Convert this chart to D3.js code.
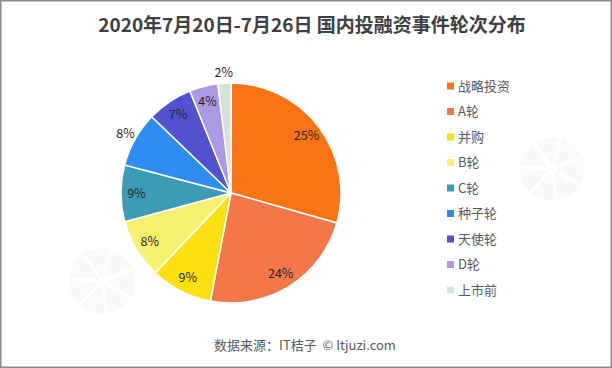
<!DOCTYPE html>
<html>
<head>
<meta charset="utf-8">
<script src="https://cdn.jsdelivr.net/npm/d3@7"></script>
<style>
    html, body { margin: 0; padding: 0; background: #fff; }
    svg { display: block; font-family: "Noto Sans CJK SC", "Noto Sans", sans-serif; }
</style>
</head>
<body>
<svg id="chart"></svg>
<script>
/* ========================================
   国内投融资事件轮次分布 - Pie Chart
   ======================================== */

const categories = ['战略投资', 'A轮', '并购', 'B轮', 'C轮', '种子轮', '天使轮', 'D轮', '上市前'];
const shares = [29.4, 23.6, 9.1, 8.7, 8.3, 8.1, 6.7, 4.2, 1.9];
const labelTexts = ['25%', '24%', '9%', '8%', '9%', '8%', '7%', '4%', '2%'];
const outsideLabels = ['种子轮', '上市前'];
const colors = ['#f97414', '#f4774a', '#fde00f', '#f7f170', '#3d9bb7', '#2f8cf0', '#5252d0', '#ab99e6', '#d3e2dc'];

const width = 612, height = 368;
const center = { x: 231, y: 193 };
const radius = 110;

const svg = d3.select('#chart')
    .attr('width', width)
    .attr('height', height);

// Frame
svg.append('rect')
    .attr('x', 0.75).attr('y', 0.75)
    .attr('width', width - 1.5).attr('height', height - 1.5)
    .attr('fill', '#fff')
    .attr('stroke', '#8c8c8c')
    .attr('stroke-width', 1.5);

// Faint watermark logos
function watermark(cx, cy, r) {
    const w = svg.append('g').attr('transform', `translate(${cx},${cy})`);
    w.append('circle').attr('r', r).attr('fill', '#f9f9f9');
    d3.range(7).forEach(i => {
        const a = i * 2 * Math.PI / 7 + 0.3;
        w.append('line')
            .attr('x1', 0).attr('y1', 0)
            .attr('x2', r * Math.sin(a)).attr('y2', -r * Math.cos(a))
            .attr('stroke', '#fff').attr('stroke-width', 3);
    });
}
watermark(102, 281, 33);
watermark(552, 169, 32);

// Title
svg.append('text')
    .attr('x', 312)
    .attr('y', 32)
    .attr('text-anchor', 'middle')
    .attr('fill', '#404040')
    .style('font-size', '19px')
    .style('font-weight', 'bold')
    .text('2020年7月20日-7月26日 国内投融资事件轮次分布');

// Pie
const pie = d3.pie().sort(null).value(d => d.value);
const data = categories.map((c, i) => ({ name: c, value: shares[i], label: labelTexts[i], color: colors[i] }));
const arcs = pie(data);

const arc = d3.arc().innerRadius(0).outerRadius(radius);
const innerLabelArc = d3.arc().innerRadius(radius * 0.86).outerRadius(radius * 0.86);
const outerLabelArc = d3.arc().innerRadius(radius * 1.1).outerRadius(radius * 1.1);

const g = svg.append('g').attr('transform', `translate(${center.x},${center.y})`);

g.selectAll('path')
    .data(arcs)
    .join('path')
    .attr('d', arc)
    .attr('fill', d => d.data.color)
    .attr('stroke', '#fff')
    .attr('stroke-width', 1.5);

g.selectAll('text')
    .data(arcs)
    .join('text')
    .attr('transform', d => {
        const a = outsideLabels.includes(d.data.name) ? outerLabelArc : innerLabelArc;
        return `translate(${a.centroid(d)})`;
    })
    .attr('text-anchor', 'middle')
    .attr('dy', '0.35em')
    .attr('fill', '#262626')
    .style('font-size', '12.5px')
    .text(d => d.data.label);

// Legend
const legendY = d3.scalePoint().domain(categories).range([86, 290]);
const legend = svg.append('g');
const items = legend.selectAll('g')
    .data(data)
    .join('g')
    .attr('transform', d => `translate(447,${legendY(d.name)})`);

items.append('rect')
    .attr('x', 0).attr('y', -3.5)
    .attr('width', 7).attr('height', 7)
    .attr('fill', d => d.color);

items.append('text')
    .attr('x', 11)
    .attr('dy', '0.36em')
    .attr('fill', '#595959')
    .style('font-size', '13px')
    .text(d => d.name);

// Source
svg.append('text')
    .attr('x', 305)
    .attr('y', 350)
    .attr('text-anchor', 'middle')
    .attr('fill', '#595959')
    .style('font-size', '13px')
    .text('数据来源：IT桔子\u00a0\u00a0© Itjuzi.com');
</script>
</body>
</html>
